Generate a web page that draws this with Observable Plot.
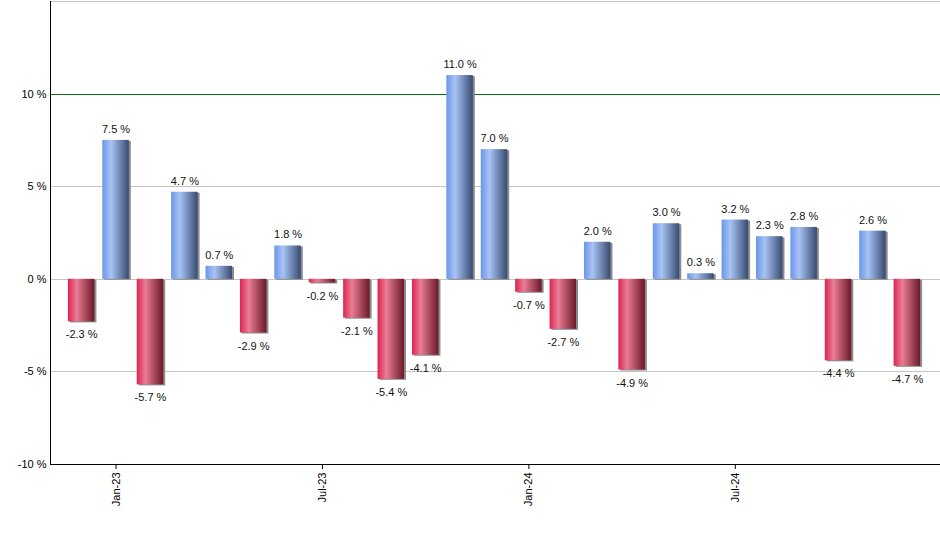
<!DOCTYPE html>
<html>
<head>
<meta charset="utf-8">
<script src="https://cdn.jsdelivr.net/npm/d3@7"></script>
<script src="https://cdn.jsdelivr.net/npm/@observablehq/plot@0.6"></script>
<style>
  html, body { margin: 0; padding: 0; background: #fff; }
  #chart svg { display: block; }
</style>
</head>
<body>
<div id="chart"></div>
<script>
const months = ["2022-12","2023-01","2023-02","2023-03","2023-04","2023-05","2023-06","2023-07","2023-08","2023-09","2023-10","2023-11","2023-12","2024-01","2024-02","2024-03","2024-04","2024-05","2024-06","2024-07","2024-08","2024-09","2024-10","2024-11","2024-12"];
const returns = [-2.3, 7.5, -5.7, 4.7, 0.7, -2.9, 1.8, -0.2, -2.1, -5.4, -4.1, 11.0, 7.0, -0.7, -2.7, 2.0, -4.9, 3.0, 0.3, 3.2, 2.3, 2.8, -4.4, 2.6, -4.7];
const tickMonths = ["2023-01","2023-07","2024-01","2024-07"];
const tickLabels = ["Jan-23","Jul-23","Jan-24","Jul-24"];
const yTicks = [-10, -5, 0, 5, 10];
const grayGrid = [-5, 0, 5, 15];
const greenGrid = [10];

const data = months.map((m, i) => ({month: m, value: returns[i]}));
const pos = data.filter(d => d.value >= 0);
const neg = data.filter(d => d.value < 0);
const labelOf = new Map(tickMonths.map((m, i) => [m, tickLabels[i]]));
const fmt = v => v.toFixed(1) + " %";

const chart = Plot.plot({
  width: 940,
  height: 550,
  marginLeft: 50,
  marginRight: 0,
  marginTop: 1,
  marginBottom: 86,
  style: {fontFamily: "'Liberation Sans', Arial, sans-serif", fontSize: "11px", color: "#000", background: "#fff"},
  x: {domain: months, range: [60, 928], padding: 0.23, round: false, label: null},
  y: {domain: [-10, 15], label: null},
  marks: [
    Plot.ruleY(grayGrid, {stroke: "#c4c4c4", strokeWidth: 1, shapeRendering: "crispEdges"}),
    Plot.ruleY(greenGrid, {stroke: "#0f6a0f", strokeWidth: 1, shapeRendering: "crispEdges"}),
    Plot.barY(data, {x: "month", y: "value", fill: "#8c8c8c", dx: 2, dy: 1}),
    Plot.barY(pos, {x: "month", y: "value", fill: "url(#gradBlue)"}),
    Plot.barY(neg, {x: "month", y: "value", fill: "url(#gradRed)"}),
    Plot.text(pos, {x: "month", y: "value", text: d => fmt(d.value), dy: -11, fill: "#111", fontSize: 11}),
    Plot.text(neg, {x: "month", y: "value", text: d => fmt(d.value), dy: 13, fill: "#111", fontSize: 11}),
    Plot.axisY({ticks: yTicks, tickFormat: d => d + " %", tickSize: 0, tickPadding: 4, fontSize: 11}),
    Plot.axisX({ticks: tickMonths, tickFormat: d => labelOf.get(d), tickRotate: -90, tickSize: 5, tickPadding: 3, fontSize: 11}),
    Plot.frame({anchor: "left", stroke: "#000", strokeWidth: 1, shapeRendering: "crispEdges"}),
    Plot.frame({anchor: "bottom", stroke: "#000", strokeWidth: 1, shapeRendering: "crispEdges"})
  ]
});

const ns = "http://www.w3.org/2000/svg";
const defs = document.createElementNS(ns, "defs");
function grad(id, stops) {
  const g = document.createElementNS(ns, "linearGradient");
  g.setAttribute("id", id);
  g.setAttribute("x1", "0"); g.setAttribute("y1", "0");
  g.setAttribute("x2", "1"); g.setAttribute("y2", "0");
  for (const [o, c] of stops) {
    const s = document.createElementNS(ns, "stop");
    s.setAttribute("offset", o);
    s.setAttribute("stop-color", c);
    g.appendChild(s);
  }
  defs.appendChild(g);
}
grad("gradBlue", [["0", "#6a96e8"], ["0.33", "#a8c3f4"], ["1", "#374b72"]]);
grad("gradRed", [["0", "#dc2450"], ["0.33", "#ea7d94"], ["1", "#6a1828"]]);
chart.insertBefore(defs, chart.firstChild);

document.getElementById("chart").appendChild(chart);
</script>
</body>
</html>
